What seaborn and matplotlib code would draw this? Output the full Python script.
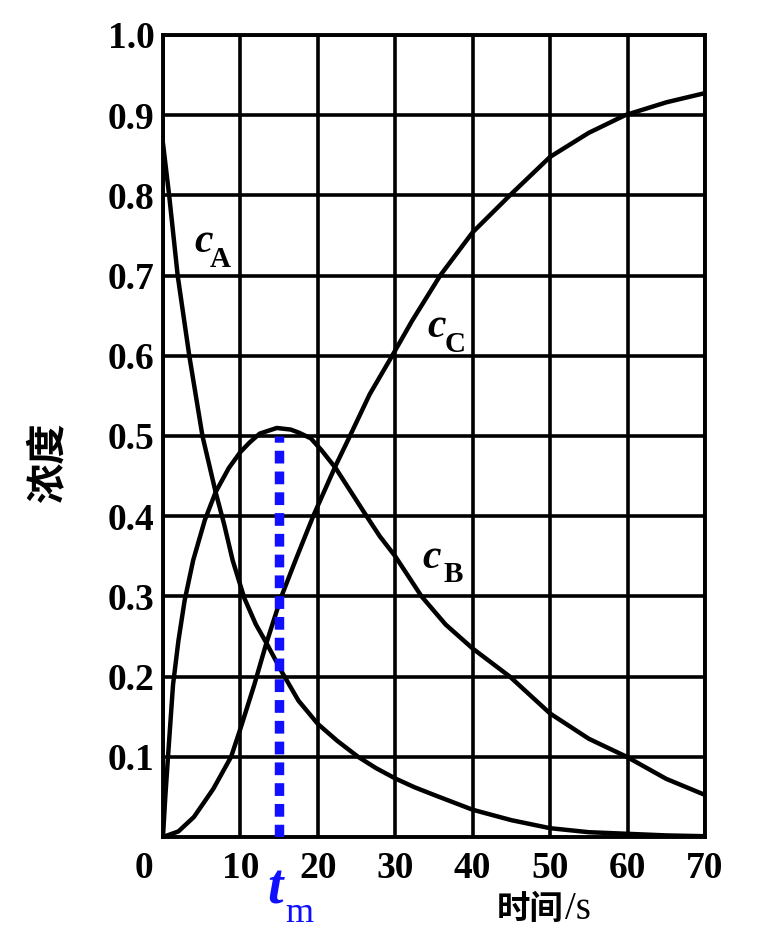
import seaborn as sns
import matplotlib.pyplot as plt
import matplotlib.transforms as mtransforms
import pandas as pd

## values (time in s, concentration)
t_a = [0, 0.8, 1.9, 3.4, 5.1, 6.8, 7.9, 9.0, 10.5, 12.0, 13.3, 15.4, 17.5, 20, 22.5, 25.2,
       27.5, 30, 32.5, 35, 40, 45, 50, 55, 60, 65, 70]
c_a = [0.865, 0.80, 0.70, 0.60, 0.50, 0.43, 0.39, 0.345, 0.298, 0.265, 0.243, 0.205, 0.17, 0.141,
       0.12, 0.10, 0.086, 0.073, 0.062, 0.0525, 0.034, 0.021, 0.011, 0.006, 0.004, 0.002, 0.001]

t_b = [0, 0.3, 0.65, 1.3, 2.0, 2.8, 3.9, 5.4, 6.8, 8.5, 10, 11.2, 12.5, 14.7, 16.5, 17.6,
       19.1, 20.5, 22.3, 24.3, 26.3, 28, 30, 33.4, 36.5, 40, 44.8, 50, 55, 59.9, 65, 70]
c_b = [0, 0.05, 0.10, 0.19, 0.245, 0.295, 0.345, 0.395, 0.43, 0.46, 0.48, 0.492, 0.503, 0.51,
       0.508, 0.504, 0.497, 0.482, 0.46, 0.43, 0.40, 0.375, 0.35, 0.30, 0.265, 0.235, 0.20,
       0.154, 0.1225, 0.10, 0.0725, 0.0525]

t_c = [0, 2, 4, 6.5, 8.8, 10, 11.8, 13.3, 15.3, 17.2, 19.4, 22.3, 23.9, 26.7, 29.6, 32.2,
       35.8, 40, 44.8, 50, 55, 59.7, 65, 70]
c_c = [0, 0.007, 0.025, 0.06, 0.10, 0.135, 0.19, 0.24, 0.30, 0.347, 0.40, 0.463, 0.495, 0.552,
       0.60, 0.644, 0.70, 0.754, 0.80, 0.848, 0.878, 0.90, 0.916, 0.9275]

t_m = 15
c_b_max = 0.50

x_ticks = [0, 10, 20, 30, 40, 50, 60, 70]
y_ticks = [0.1, 0.2, 0.3, 0.4, 0.5, 0.6, 0.7, 0.8, 0.9, 1.0]

# curve names with (t, c) of the letter c and of its subscript
curve_labels = [('A', 4.1, 0.73, 6.1, 0.711),
                ('C', 34.2, 0.623, 36.4, 0.605),
                ('B', 33.5, 0.335, 36.2, 0.318)]

df = pd.concat([
    pd.DataFrame({'t': t_a, 'c': c_a, 's': 'A'}),
    pd.DataFrame({'t': t_b, 'c': c_b, 's': 'B'}),
    pd.DataFrame({'t': t_c, 'c': c_c, 's': 'C'}),
])

sns.set_style('white')
plt.rcParams['font.family'] = ['Liberation Serif', 'Noto Sans CJK SC']
plt.rcParams['text.color'] = 'black'
plt.rcParams['xtick.color'] = 'black'
plt.rcParams['ytick.color'] = 'black'
BLUE = '#1010ff'

fig = plt.figure(figsize=(7.58, 9.35), dpi=100)
ax = fig.add_axes([0.215, 0.1048, 0.715, 0.8578])

# grid drawn as lines so it sits under the curves
for x in x_ticks:
    ax.axvline(x, color='black', lw=2.6, zorder=1)
for y in y_ticks:
    ax.axhline(y, color='black', lw=2.6, zorder=1)

sns.lineplot(data=df, x='t', y='c', units='s', estimator=None, color='black',
             lw=3.2, sort=False, ax=ax, zorder=3)

# t_m dotted line
ax.plot([t_m, t_m], [0, c_b_max], color=BLUE, lw=6.8,
        linestyle=(0, (1.35, 0.85)), dash_capstyle='butt', zorder=4)

ax.set_xlim(0, 70)
ax.set_ylim(0, 1.0)
ax.set_xticks(x_ticks)
ax.set_yticks(y_ticks)
ax.set_xticklabels([str(v) for v in x_ticks], fontsize=27, weight='bold')
ax.set_yticklabels(['%.1f' % v for v in y_ticks], fontsize=27, weight='bold')
ax.tick_params(axis='x', length=0, pad=10)
ax.tick_params(axis='y', length=0, pad=6)
lab0 = ax.get_xticklabels()[0]
lab0.set_transform(lab0.get_transform() +
                   mtransforms.ScaledTranslation(-14 / 72, 0, fig.dpi_scale_trans))
for s in ax.spines.values():
    s.set_linewidth(2.8)
    s.set_color('black')
ax.set_xlabel('')
ax.set_ylabel('')

# curve labels: italic c with an upright subscript
for name, xc, yc, xs, ys in curve_labels:
    ax.text(xc, yc, 'c', fontsize=30, style='italic', weight='bold',
            ha='left', va='baseline')
    ax.text(xs, ys, name, fontsize=21, weight='bold', ha='left', va='baseline')

fig.text(0.352, 0.034, 't', fontsize=40, color=BLUE, style='italic',
         weight='bold', family='Liberation Serif', ha='left', va='baseline')
fig.text(0.376, 0.0139, 'm', fontsize=26, color=BLUE,
         family='Liberation Serif', ha='left', va='baseline')

fig.text(0.0646, 0.506, '浓度', fontsize=29, weight='bold', rotation=90,
         family=['Noto Sans CJK SC'], ha='center', va='center')
fig.text(0.655, 0.017, '时间', fontsize=24, weight='bold',
         family=['Noto Sans CJK SC'], ha='left', va='baseline')
fig.text(0.745, 0.017, '/s', fontsize=28, family='Liberation Serif',
         ha='left', va='baseline')

fig.savefig('out.png', dpi=100)
